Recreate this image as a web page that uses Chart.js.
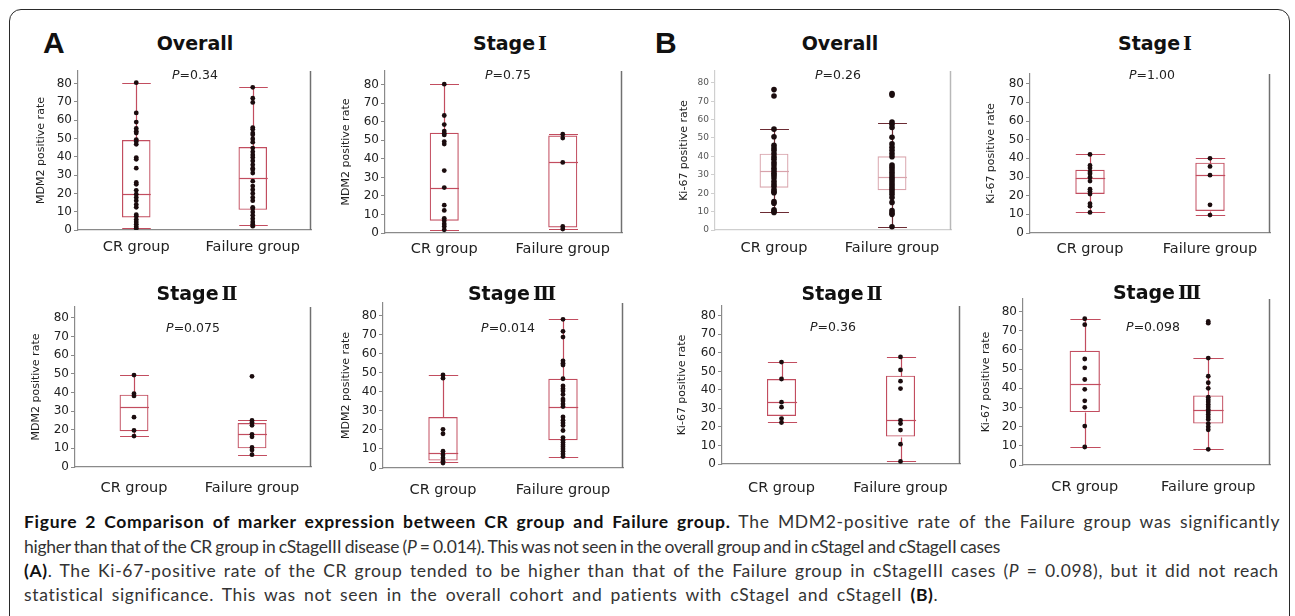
<!DOCTYPE html>
<html>
<head>
<meta charset="utf-8">
<script src="https://cdn.jsdelivr.net/npm/chart.js@4.4.1/dist/chart.umd.min.js"></script>
<style>
body { margin: 0; background: #fff; width: 1295px; height: 616px; position: relative; overflow: hidden; font-family: "DejaVu Sans", sans-serif; }
#frame { position: absolute; left: 9px; top: 9px; width: 1279px; height: 640px; border: 1.6px solid #2a2a2a; border-radius: 12px; }
canvas { position: absolute; }
.letter { position: absolute; font: bold 30px "Liberation Sans", sans-serif; color: #111; transform: translateY(-50%); }
.title { position: absolute; font: bold 19px "DejaVu Sans", sans-serif; line-height: 24px; color: #111; transform: translate(-50%, -50%); white-space: nowrap; }
.title .rn { font-family: "DejaVu Serif", "Noto Serif CJK JP", serif; font-weight: bold; line-height: 0; margin-left: 3px; }
.pval { position: absolute; font: 12.5px "DejaVu Sans", sans-serif; color: #222; transform: translate(-50%, -50%); white-space: nowrap; }
.cap { position: absolute; left: 24px; font: 17.5px Lato, sans-serif; line-height: 23px; color: #333; white-space: nowrap; }
.cap b { color: #111; }
</style>
</head>
<body>
<div id="frame"></div>
<div class="letter" style="left:43px;top:43px">A</div>
<div class="letter" style="left:655px;top:43px">B</div>

<div class="cap" data-w="1256" style="top:510px"><b>Figure 2 Comparison of marker expression between CR group and Failure group.</b> The MDM2-positive rate of the Failure group was significantly</div>
<div class="cap" data-w="976" style="top:535px">higher than that of the CR group in cStageIII disease (<i>P</i> = 0.014). This was not seen in the overall group and in cStageI and cStageII cases</div>
<div class="cap" data-w="1255" style="top:559px"><b>(A)</b>. The Ki-67-positive rate of the CR group tended to be higher than that of the Failure group in cStageIII cases (<i>P</i> = 0.098), but it did not reach</div>
<div class="cap" data-w="915" style="top:583px">statistical significance. This was not seen in the overall cohort and patients with cStageI and cStageII <b>(B)</b>.</div>

<script>
const groups = ['CR group', 'Failure group'];
const yTicks = [0, 10, 20, 30, 40, 50, 60, 70, 80];

// MDM2 positive rate, individual patients
const mdm2AllCR = [80.5, 64, 59, 55.5, 54, 53, 49.4, 48.4, 46.8, 39.6, 38.6, 33.8, 26, 25, 21.7, 19.6, 17.8, 16, 13.9, 12.4, 8.4, 7.5, 5.7, 4.4, 3.2, 1.8, 0.9];
const mdm2AllFail = [78, 72, 69.7, 56, 55, 53, 52, 49.8, 48, 44.8, 42.7, 41, 39.6, 37.7, 35.6, 33.8, 32.9, 31.1, 26.7, 24, 22, 20, 17.8, 16, 12.4, 11.6, 9.8, 8, 6.2, 4.4, 3.2, 2.1];
const mdm2S1CR = [80.3, 63.4, 58.5, 55, 53.8, 52.9, 49.3, 48, 33.7, 24.5, 15, 12.2, 7.9, 6.6, 4.9, 3.5, 1.7];
const mdm2S1Fail = [53.3, 51.2, 38.1, 3.5, 2.1];
const mdm2S2CR = [49.3, 39.3, 38.1, 26.7, 19.6, 16.6];
const mdm2S2Fail = [48.6, 25, 23.9, 22.4, 17.5, 16.2, 10.5, 9.1, 6.6];
const mdm2S3CR = [48.9, 47.2, 20.3, 18, 8.8, 7, 5.3, 3.6, 2.6];
const mdm2S3Fail = [78.1, 71.8, 68.8, 56.3, 55.1, 54.1, 46.9, 43.1, 41.7, 40.5, 38.6, 36.2, 35.2, 33.6, 32.3, 26.8, 25.1, 23.7, 22.3, 19.7, 16, 14.6, 13.4, 12.2, 11.2, 10, 8.8, 7.4, 6];

// Ki-67 positive rate, individual patients
const ki67AllCR = [76.3, 72.8, 54.8, 50.7, 46, 44.5, 43.3, 41.5, 39.8, 38.5, 36.7, 35.3, 33.6, 32.2, 30.9, 29.7, 28.3, 26.5, 25, 23.8, 22, 20.8, 20.3, 15.4, 14.5, 11, 10.2, 9.5];
const ki67AllFail = [74.2, 73.3, 58.7, 57.4, 55.7, 50.4, 46.8, 45, 43.3, 41.5, 39.8, 35.3, 34.1, 32.7, 31.4, 30, 28.6, 27.4, 26.1, 24.7, 23.3, 22.1, 20.8, 19.4, 17.7, 15, 10.6, 9.4, 8.5, 1.8];
const ki67S1CR = [42.1, 36.2, 34.8, 32.7, 31.7, 29.9, 27.8, 23.5, 22.3, 20.9, 15.7, 14.4, 11];
const ki67S1Fail = [40, 35.7, 31, 15.1, 9.6];
const ki67S2CR = [55, 45.9, 33.4, 30.7, 24.5, 22.4];
const ki67S2Fail = [57.8, 50.8, 44.7, 40.7, 23.6, 21.8, 18.3, 10.7, 1.4];
const ki67S3CR = [76.3, 73.2, 55.3, 50.7, 44.6, 39.5, 33.5, 30.1, 20.3, 9.4];
const ki67S3Fail = [74.9, 74, 55.8, 46.3, 42.9, 40, 35.4, 34, 32.9, 31.5, 30.3, 28.9, 27.7, 26.4, 25, 23.8, 21.6, 19.9, 18.4, 8.2];

// box stats per group: [low whisker, q1, median, q3, high whisker]
const mdm2AllBox = [[1.2, 6.8, 19.6, 49.2, 80.5], [2.5, 11, 28.4, 45.3, 78]];
const mdm2S1Box = [[1.4, 6.6, 24.5, 54.1, 80.3], [2.1, 3, 38.1, 52.6, 53.3]];
const mdm2S2Box = [[16.6, 19.2, 32, 38.8, 49.3], [6.5, 10, 17.8, 23.6, 25]];
const mdm2S3Box = [[3.1, 3.9, 7.7, 26.8, 49.1], [5.7, 14.6, 31.9, 46.9, 78.1]];
const ki67AllBox = [[9.9, 23, 32.2, 41.5, 55.1], [1.4, 21.6, 28.8, 40.1, 58.3]];
const ki67S1Box = [[11, 20.9, 29.6, 33.9, 42.1], [9.6, 11.8, 31, 37.7, 40]];
const ki67S2Box = [[22.7, 25.9, 33.4, 45.9, 55], [1.4, 14.8, 23.6, 47.7, 57.8]];
const ki67S3Box = [[9.4, 27.6, 42, 59.6, 76.3], [8.2, 21.6, 28.9, 36.3, 55.8]];

const pValues = ['0.34', '0.75', '0.26', '1.00', '0.075', '0.014', '0.36', '0.098'];
const panelTitles = ['Overall', 'Stage<span class="rn">Ⅰ</span>', 'Overall', 'Stage<span class="rn">Ⅰ</span>',
  'Stage<span class="rn">Ⅱ</span>', 'Stage<span class="rn">Ⅲ</span>', 'Stage<span class="rn">Ⅱ</span>', 'Stage<span class="rn">Ⅲ</span>'];

const solid = { box: '#c24d5f', whisker: '#c24d5f', axis: '#8a8a8a', frame: '#707070', tickSize: 12, tickColor: '#222', dot: '#1b0c0e', r: 2.4 };
const light = { box: '#d8a3ab', whisker: '#6b2b33', axis: '#cfcfcf', frame: '#b8b8b8', tickSize: 9, tickColor: '#555', dot: '#1b0c0e', r: 2.8 };

// placement of each small plot on the page
const panels = [
  { cr: mdm2AllCR, fail: mdm2AllFail, box: mdm2AllBox, yTitle: 'MDM2 positive rate', st: solid, axisX: 78, rightX: 313, top: 67, y0: 230, max: 86.9, titleX: 42, pad: 1, tx: 195, ty: 43, px: 195, py: 74 },
  { cr: mdm2S1CR, fail: mdm2S1Fail, box: mdm2S1Box, yTitle: 'MDM2 positive rate', st: solid, axisX: 385, rightX: 624, top: 67, y0: 233, max: 87.4, titleX: 347, pad: 0, tx: 510, ty: 43, px: 508, py: 74 },
  { cr: ki67AllCR, fail: ki67AllFail, box: ki67AllBox, yTitle: 'Ki-67 positive rate', st: light, axisX: 715, rightX: 953, top: 67, y0: 230, max: 86.4, titleX: 685, pad: 2, tx: 840, ty: 43, px: 838, py: 74 },
  { cr: ki67S1CR, fail: ki67S1Fail, box: ki67S1Box, yTitle: 'Ki-67 positive rate', st: solid, axisX: 1030, rightX: 1272, top: 70, y0: 233, max: 85.2, titleX: 992, pad: 0, tx: 1155, ty: 43, px: 1152, py: 74 },
  { cr: mdm2S2CR, fail: mdm2S2Fail, box: mdm2S2Box, yTitle: 'MDM2 positive rate', st: solid, axisX: 75, rightX: 313, top: 303, y0: 467, max: 85.8, titleX: 37, pad: 5, tx: 197, ty: 293, px: 193, py: 327 },
  { cr: mdm2S3CR, fail: mdm2S3Fail, box: mdm2S3Box, yTitle: 'MDM2 positive rate', st: solid, axisX: 383, rightX: 625, top: 299, y0: 468, max: 86.7, titleX: 347, pad: 6, tx: 512, ty: 293, px: 508, py: 327 },
  { cr: ki67S2CR, fail: ki67S2Fail, box: ki67S2Box, yTitle: 'Ki-67 positive rate', st: solid, axisX: 722, rightX: 962, top: 302, y0: 464, max: 85.3, titleX: 683, pad: 8, tx: 842, ty: 293, px: 833, py: 326 },
  { cr: ki67S3CR, fail: ki67S3Fail, box: ki67S3Box, yTitle: 'Ki-67 positive rate', st: solid, axisX: 1023, rightX: 1272, top: 295, y0: 465, max: 86.6, titleX: 987, pad: 6, tx: 1157, ty: 292, px: 1153, py: 326 }
];

// whiskers, caps, medians and the right frame line
const boxLines = {
  id: 'boxLines',
  beforeDatasetsDraw(chart) {
    const ds = chart.data.datasets[0];
    const y = chart.scales.y;
    const bars = chart.getDatasetMeta(0).data;
    const ctx = chart.ctx;
    const py = v => Math.round(y.getPixelForValue(v)) + 0.5;
    ctx.save();
    ctx.lineWidth = 1.2;
    ds.stats.forEach((s, i) => {
      const x = Math.round(bars[i].x) + 0.5, half = bars[i].width / 2;
      ctx.strokeStyle = ds.whiskerColor;
      ctx.beginPath();
      ctx.moveTo(x, py(s[0])); ctx.lineTo(x, py(s[1]));
      ctx.moveTo(x, py(s[3])); ctx.lineTo(x, py(s[4]));
      ctx.moveTo(x - half, py(s[0])); ctx.lineTo(x + half, py(s[0]));
      ctx.moveTo(x - half, py(s[4])); ctx.lineTo(x + half, py(s[4]));
      ctx.stroke();
      ctx.strokeStyle = ds.borderColor;
      ctx.beginPath();
      ctx.moveTo(x - half, py(s[2])); ctx.lineTo(x + half, py(s[2]));
      ctx.stroke();
    });
    ctx.restore();
  },
  afterDraw(chart) {
    const a = chart.chartArea, ctx = chart.ctx;
    ctx.save();
    ctx.strokeStyle = chart.data.datasets[0].frameColor;
    ctx.lineWidth = 1.5;
    ctx.beginPath();
    ctx.moveTo(a.right - 0.5, a.top);
    ctx.lineTo(a.right - 0.5, a.bottom);
    ctx.stroke();
    ctx.restore();
  }
};

function addText(cls, html, x, y) {
  const d = document.createElement('div');
  d.className = cls;
  d.innerHTML = html;
  d.style.left = x + 'px';
  d.style.top = y + 'px';
  document.body.appendChild(d);
}

function drawPanel(p, i) {
  const st = p.st;
  const left = p.titleX - 7;
  const w = p.rightX - left + 2;
  const h = p.y0 - p.top + 40;
  const canvas = document.createElement('canvas');
  canvas.width = w;
  canvas.height = h;
  canvas.style.left = left + 'px';
  canvas.style.top = p.top + 'px';
  document.body.appendChild(canvas);

  const dots = p.cr.map(v => ({ x: groups[0], y: v }))
    .concat(p.fail.map(v => ({ x: groups[1], y: v })));

  new Chart(canvas, {
    type: 'bar',
    data: {
      labels: groups,
      datasets: [{
        type: 'bar',
        data: p.box.map(b => [b[1], b[3]]),
        stats: p.box,
        whiskerColor: st.whisker,
        frameColor: st.frame,
        backgroundColor: 'rgba(255,255,255,0)',
        borderColor: st.box,
        borderWidth: 1.2,
        borderSkipped: false,
        barPercentage: 0.245,
        categoryPercentage: 1,
        order: 2
      }, {
        type: 'line',
        data: dots,
        showLine: false,
        pointRadius: st.r,
        pointBackgroundColor: st.dot,
        pointBorderWidth: 0,
        borderColor: st.dot,
        order: 1
      }]
    },
    options: {
      responsive: false,
      animation: false,
      layout: { padding: { left: 0, top: 0, right: 2, bottom: 0 } },
      plugins: { legend: { display: false }, tooltip: { enabled: false } },
      scales: {
        x: {
          offset: true,
          grid: { display: false },
          border: { display: true, color: st.axis, width: 1.2 },
          ticks: { font: { family: 'DejaVu Sans', size: 14.5 }, color: '#222', padding: p.pad, maxRotation: 0, autoSkip: false },
          afterFit: s => { s.height = h - (p.y0 - p.top); s.paddingLeft = 0; s.paddingRight = 0; }
        },
        y: {
          min: 0,
          max: p.max,
          afterBuildTicks: s => { s.ticks = yTicks.map(v => ({ value: v })); },
          grid: { display: true, drawOnChartArea: false, drawTicks: true, tickLength: 4, color: st.axis },
          border: { display: true, color: st.axis, width: 1.2 },
          ticks: { font: { family: 'DejaVu Sans', size: st.tickSize }, color: st.tickColor, padding: 2 },
          title: { display: true, text: p.yTitle, font: { family: 'DejaVu Sans', size: 11 }, color: '#222', padding: 0 },
          afterFit: s => { s.width = p.axisX - left; s.paddingTop = 0; s.paddingBottom = 0; }
        }
      }
    },
    plugins: [boxLines]
  });

  addText('title', panelTitles[i], p.tx, p.ty);
  addText('pval', '<i>P</i>=' + pValues[i], p.px, p.py);
}

panels.forEach(drawPanel);

// caption lines: share the missing width between letters and word gaps
document.querySelectorAll('.cap').forEach(el => {
  const natural = el.getBoundingClientRect().width;
  const extra = +el.dataset.w - natural;
  const chars = el.textContent.length;
  const spaces = el.textContent.split(' ').length - 1;
  el.style.letterSpacing = (extra * 0.6 / chars).toFixed(3) + 'px';
  el.style.wordSpacing = (extra * 0.4 / spaces).toFixed(3) + 'px';
});
</script>
</body>
</html>
